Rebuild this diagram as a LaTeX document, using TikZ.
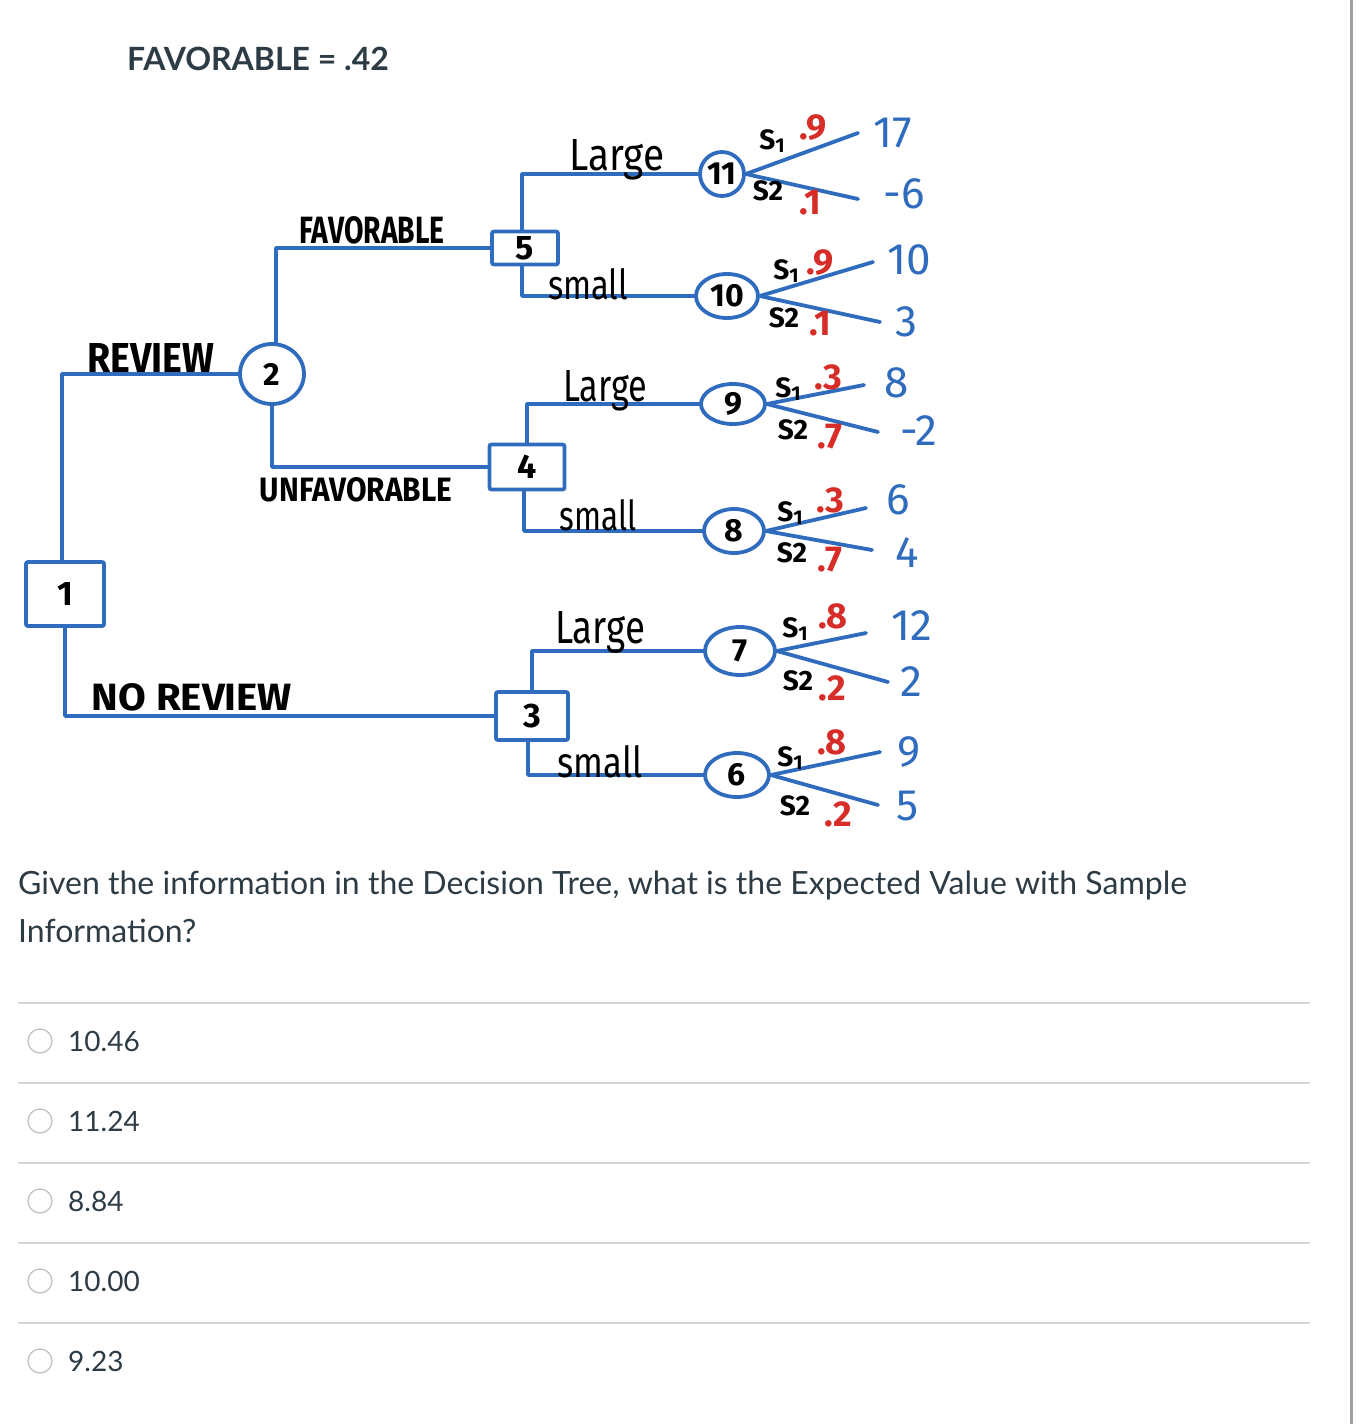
\documentclass[tikz,border=0pt]{standalone}
\usepackage{fontspec}
\setmainfont{Lato}
\newfontfamily\hand{Fira Sans}
\usetikzlibrary{shapes.geometric}
\definecolor{pen}{RGB}{47,108,190}
\definecolor{redink}{RGB}{214,45,40}
\definecolor{qtext}{RGB}{45,59,69}
\definecolor{rule}{RGB}{214,214,214}
\definecolor{radio}{RGB}{190,190,190}
\definecolor{edge}{RGB}{160,160,160}
\newcommand{\hs}[1]{\hand\fontsize{#1}{#1}\selectfont}
\newcommand{\fitbox}[3]{\resizebox{#1pt}{#2pt}{#3}}
\newcommand{\sone}{S\raisebox{-0.25ex}{\fontsize{20}{20}\selectfont 1}}
\begin{document}
\begin{tikzpicture}[x=1pt,y=-1pt,
  tree/.style={draw=pen, line width=3.8pt, line cap=round, line join=round},
  dbox/.style={draw=pen, line width=3.8pt, rounded corners=2pt, inner sep=0pt, font=\hs{34}\bfseries},
  chance/.style={ellipse, draw=pen, line width=3.8pt, inner sep=0pt, font=\hs{32}\bfseries},
  caplbl/.style={font=\hs{27}\bfseries, text=black, inner sep=0pt},
  brlbl/.style={font=\hs{30}, text=black, inner sep=0pt},
  slbl/.style={font=\hs{28}\bfseries, text=black, inner sep=0pt},
  plbl/.style={font=\hs{36}\bfseries, text=redink, inner sep=0pt},
  pay/.style={font=\hs{44}, text=pen, inner sep=0pt},
  qtxt/.style={font=\fontsize{28}{34}\selectfont, text=qtext, inner sep=0pt},
  sep/.style={draw=rule, line width=2pt},
  rbtn/.style={circle, draw=radio, line width=1.2pt, minimum size=24pt, inner sep=0pt}
]
\useasboundingbox (0,0) rectangle (1356,1424);
\draw[draw=edge, line width=3pt] (1351,0) -- (1351,1424);

% title
\node[qtxt, anchor=west, font=\fontsize{32}{32}\selectfont\bfseries] (title) at (127,59) {FAVORABLE = .42};

% decision and chance nodes
\node[dbox, minimum width=78pt, minimum height=64pt] (n1) at (65,594) {1};
\node[chance, minimum width=64pt, minimum height=60pt] (n2) at (272,374) {2};
\node[dbox, minimum width=66pt, minimum height=33pt] (n5) at (525,248) {5};
\node[dbox, minimum width=75pt, minimum height=45pt] (n4) at (527,467) {4};
\node[dbox, minimum width=72pt, minimum height=48pt] (n3) at (532,716) {3};
\node[chance, minimum width=44pt, minimum height=44pt] (n11) at (722,174) {11};
\node[chance, minimum width=62pt, minimum height=44pt] (n10) at (727,296) {10};
\node[chance, minimum width=64pt, minimum height=40pt] (n9) at (733,404) {9};
\node[chance, minimum width=60pt, minimum height=44pt] (n8) at (734,531) {8};
\node[chance, minimum width=70pt, minimum height=48pt] (n7) at (740,651) {7};
\node[chance, minimum width=64pt, minimum height=44pt] (n6) at (737,775) {6};

% decision branches
\draw[tree] ([xshift=-3pt]n1.north) |- (n2.west);
\draw[tree] (n1.south) |- (n3.west);
\draw[tree] ([xshift=4pt]n2.north) |- (n5.west);
\draw[tree] (n2.south) |- (n4.west);
\draw[tree] ([xshift=-3pt]n5.north) |- (n11.west);
\draw[tree] ([xshift=-3pt]n5.south) |- (n10.west);
\draw[tree] (n4.north) |- (n9.west);
\draw[tree] ([xshift=-3pt]n4.south) |- (n8.west);
\draw[tree] (n3.north) |- (n7.west);
\draw[tree] ([xshift=-4pt]n3.south) |- (n6.west);

% branch labels
\node[caplbl] (lrev) at (151,358) {\fitbox{127}{29}{REVIEW}};
\node[caplbl] (lfav) at (372,230) {\fitbox{145}{27}{FAVORABLE}};
\node[caplbl] (lunf) at (356,490) {\fitbox{192}{24}{UNFAVORABLE}};
\node[caplbl] (lnor) at (192,697) {\fitbox{200}{27}{NO REVIEW}};
\node[brlbl] (l5a) at (617,160) {\fitbox{95}{31}{Large}};
\node[brlbl] (l5b) at (588,284) {\fitbox{80}{31}{small}};
\node[brlbl] (l4a) at (605,391) {\fitbox{84}{31}{Large}};
\node[brlbl] (l4b) at (598,515) {\fitbox{77}{31}{small}};
\node[brlbl] (l3a) at (600,632) {\fitbox{90}{32}{Large}};
\node[brlbl] (l3b) at (600,762) {\fitbox{85}{32}{small}};

% payoffs
\node[pay] (p11a) at (893,133) {17};
\node[pay] (p11b) at (904,194) {-6};
\node[pay] (p10a) at (909,260) {10};
\node[pay] (p10b) at (906,322) {3};
\node[pay] (p9a) at (897,383) {8};
\node[pay] (p9b) at (919,431) {-2};
\node[pay] (p8a) at (898,500) {6};
\node[pay] (p8b) at (907,553) {4};
\node[pay] (p7a) at (912,626) {12};
\node[pay] (p7b) at (911,682) {2};
\node[pay] (p6a) at (909,752) {9};
\node[pay] (p6b) at (908,806) {5};

% chance branch ends
\coordinate (e11a) at (858,133); \coordinate (e11b) at (858,199);
\coordinate (e10a) at (873,262); \coordinate (e10b) at (880,322);
\coordinate (e9a) at (864,385);  \coordinate (e9b) at (878,432);
\coordinate (e8a) at (866,508);  \coordinate (e8b) at (872,550);
\coordinate (e7a) at (866,633);  \coordinate (e7b) at (888,682);
\coordinate (e6a) at (880,752);  \coordinate (e6b) at (878,805);
\foreach \n in {11,10,9,8,7,6}{
  \draw[tree] (n\n.east) -- (e\n a);
  \draw[tree] (n\n.east) -- (e\n b);
}

% state labels and probabilities
\node[slbl] (s11a) at (772,141) {\sone};
\node[plbl] (q11a) at (813,128) {.9};
\node[slbl] (s11b) at (768,191) {S2};
\node[plbl] (q11b) at (810,203) {.1};
\node[slbl] (s10a) at (786,271) {\sone};
\node[plbl] (q10a) at (820,263) {.9};
\node[slbl] (s10b) at (784,318) {S2};
\node[plbl] (q10b) at (820,324) {.1};
\node[slbl] (s9a) at (788,389) {\sone};
\node[plbl] (q9a) at (828,377) {.3};
\node[slbl] (s9b) at (793,430) {S2};
\node[plbl] (q9b) at (830,437) {.7};
\node[slbl] (s8a) at (790,513) {\sone};
\node[plbl] (q8a) at (830,500) {.3};
\node[slbl] (s8b) at (792,553) {S2};
\node[plbl] (q8b) at (830,560) {.7};
\node[slbl] (s7a) at (795,629) {\sone};
\node[plbl] (q7a) at (833,616) {.8};
\node[slbl] (s7b) at (798,681) {S2};
\node[plbl] (q7b) at (832,688) {.2};
\node[slbl] (s6a) at (790,758) {\sone};
\node[plbl] (q6a) at (832,742) {.8};
\node[slbl] (s6b) at (795,806) {S2};
\node[plbl] (q6b) at (838,814) {.2};

% question
\node[qtxt, anchor=base west, font=\fontsize{32}{38}\selectfont] (q1) at (18,894) {Given the information in the Decision Tree, what is the Expected Value with Sample};
\node[qtxt, anchor=base west, font=\fontsize{32}{38}\selectfont] (q2) at (18,942) {Information?};

% options
\foreach \yy in {1003,1083,1163,1243,1323}{ \draw[sep] (18,\yy) -- (1310,\yy); }
\node[rbtn] (r1) at (40,1041) {};
\node[rbtn] (r2) at (40,1121) {};
\node[rbtn] (r3) at (40,1201) {};
\node[rbtn] (r4) at (40,1281) {};
\node[rbtn] (r5) at (40,1361) {};
\node[qtxt, anchor=base west] (o1) at (68,1051) {10.46};
\node[qtxt, anchor=base west] (o2) at (68,1131) {11.24};
\node[qtxt, anchor=base west] (o3) at (68,1211) {8.84};
\node[qtxt, anchor=base west] (o4) at (68,1291) {10.00};
\node[qtxt, anchor=base west] (o5) at (68,1371) {9.23};
\end{tikzpicture}
\end{document}
